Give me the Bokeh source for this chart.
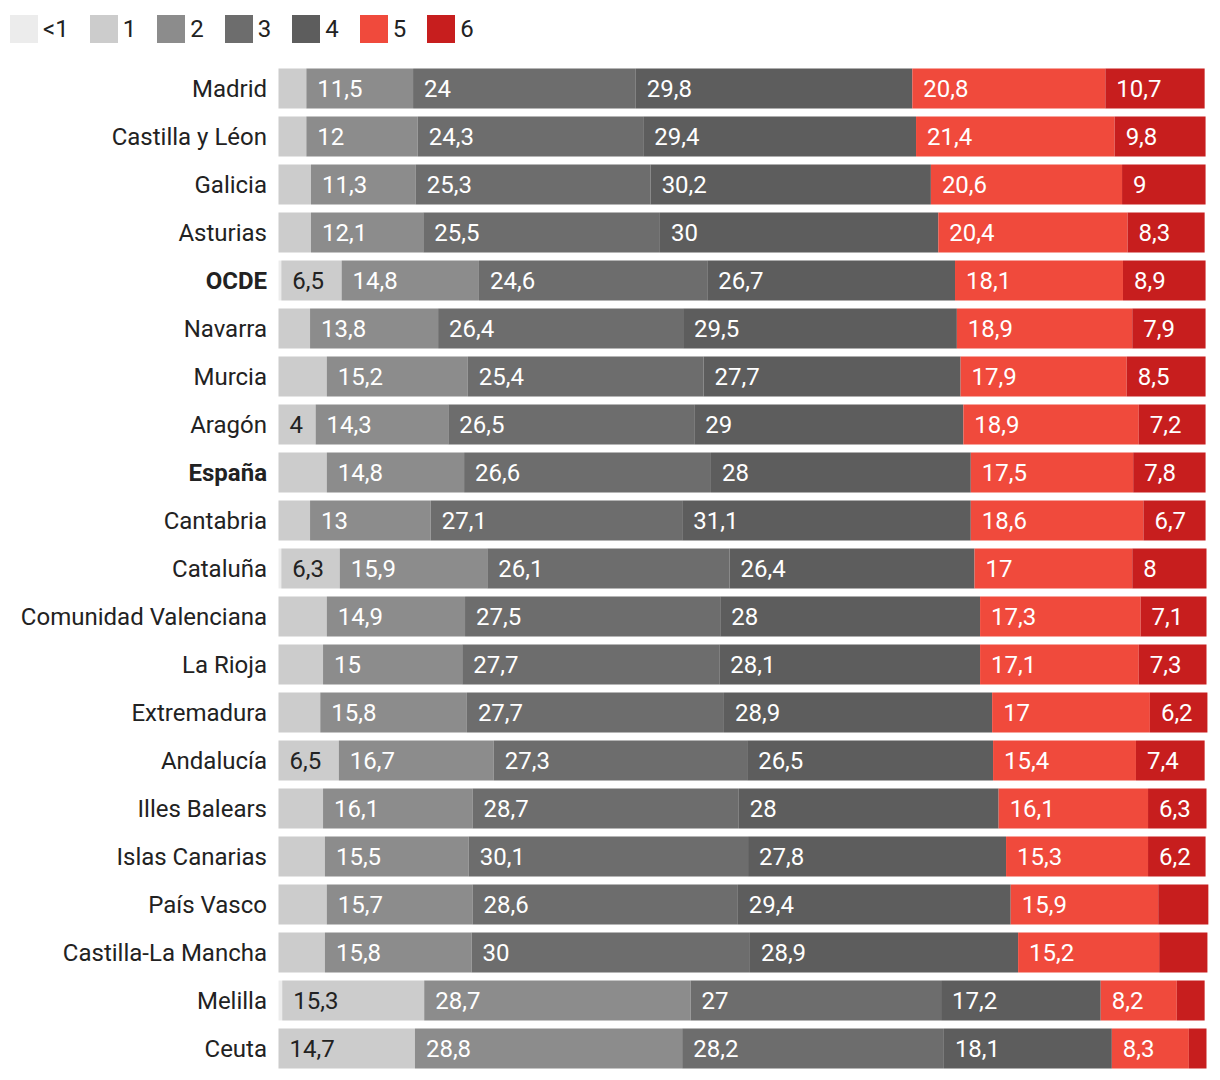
from bokeh.plotting import figure
from bokeh.models import ColumnDataSource, Range1d, Legend, LegendItem
from bokeh.core.properties import value
from bokeh.embed import file_html
from bokeh.resources import INLINE

# ---------------- data ----------------
regions = ["Madrid", "Castilla y Léon", "Galicia", "Asturias", "OCDE", "Navarra",
           "Murcia", "Aragón", "España", "Cantabria", "Cataluña",
           "Comunidad Valenciana", "La Rioja", "Extremadura", "Andalucía",
           "Illes Balears", "Islas Canarias", "País Vasco", "Castilla-La Mancha",
           "Melilla", "Ceuta"]
bold_rows = ["OCDE", "España"]

categories = ["<1", "1", "2", "3", "4", "5", "6"]

lt1 = [0, 0, 0, 0, 0.3, 0, 0, 0, 0, 0, 0.3, 0, 0, 0, 0, 0, 0, 0, 0, 0.4, 0]
c1 = [3.0, 3.0, 3.5, 3.5, 6.5, 3.4, 5.2, 4, 5.2, 3.4, 6.3, 5.2, 4.8, 4.5, 6.5,
      4.8, 5.0, 5.2, 5.0, 15.3, 14.7]
c2 = [11.5, 12, 11.3, 12.1, 14.8, 13.8, 15.2, 14.3, 14.8, 13, 15.9, 14.9, 15,
      15.8, 16.7, 16.1, 15.5, 15.7, 15.8, 28.7, 28.8]
c3 = [24, 24.3, 25.3, 25.5, 24.6, 26.4, 25.4, 26.5, 26.6, 27.1, 26.1, 27.5, 27.7,
      27.7, 27.3, 28.7, 30.1, 28.6, 30, 27, 28.2]
c4 = [29.8, 29.4, 30.2, 30, 26.7, 29.5, 27.7, 29, 28, 31.1, 26.4, 28, 28.1, 28.9,
      26.5, 28, 27.8, 29.4, 28.9, 17.2, 18.1]
c5 = [20.8, 21.4, 20.6, 20.4, 18.1, 18.9, 17.9, 18.9, 17.5, 18.6, 17, 17.3, 17.1,
      17, 15.4, 16.1, 15.3, 15.9, 15.2, 8.2, 8.3]
c6 = [10.7, 9.8, 9, 8.3, 8.9, 7.9, 8.5, 7.2, 7.8, 6.7, 8, 7.1, 7.3, 6.2, 7.4, 6.3,
      6.2, 5.4, 5.2, 3.0, 1.9]

# which values carry a printed label in the original
labelled_lt1 = [False] * 21
labelled_1 = [False, False, False, False, True, False, False, True, False, False,
              True, False, False, False, True, False, False, False, False, True, True]
labelled_2 = [True] * 21
labelled_3 = [True] * 21
labelled_4 = [True] * 21
labelled_5 = [True] * 21
labelled_6 = [True] * 17 + [False, False, False, False]

series = [lt1, c1, c2, c3, c4, c5, c6]
labelled = [labelled_lt1, labelled_1, labelled_2, labelled_3, labelled_4,
            labelled_5, labelled_6]

# ---------------- styles ----------------
colors = ["#ececec", "#cccccc", "#8c8c8c", "#6d6d6d", "#5d5d5d", "#f04a3c", "#c71e1e"]
label_colors = ["#222222", "#222222", "#ffffff", "#ffffff", "#ffffff", "#ffffff", "#ffffff"]
FONT = "Roboto"
FS = "24px"

W, H = 1212, 1072
PX = 9.28           # pixels per percentage point
X0 = 278            # bar origin in figure pixels
ROW = 48            # pixels per row
TOP0 = 88           # centre of first row from top (figure pixels)

p = figure(width=W, height=H, output_backend="svg", toolbar_location=None,
           x_range=Range1d(-X0 / PX, (W - X0) / PX),
           y_range=Range1d((H - TOP0) / ROW, -TOP0 / ROW),
           min_border=0, min_border_left=0, min_border_right=0,
           min_border_top=0, min_border_bottom=0)
p.axis.visible = False
p.grid.visible = False
p.outline_line_color = None
p.background_fill_color = "white"

def fmt(v):
    r = round(v, 1)
    if abs(r - round(r)) < 1e-9:
        return str(int(round(r)))
    return ("%.1f" % r).replace(".", ",")

ys = list(range(len(regions)))
lefts = [0.0] * len(regions)
renderers = []
for k, cat in enumerate(categories):
    vals = series[k]
    rights = [l + v for l, v in zip(lefts, vals)]
    src = ColumnDataSource(dict(y=ys, left=lefts, right=rights))
    r = p.hbar(y="y", left="left", right="right", height=40 / ROW, source=src,
               fill_color=colors[k], line_color=None)
    renderers.append(r)
    lx, ly, lt = [], [], []
    for i in ys:
        if labelled[k][i]:
            lx.append(lefts[i] + 11 / PX)
            ly.append(i)
            lt.append(fmt(vals[i]))
    tsrc = ColumnDataSource(dict(x=lx, y=ly, t=lt))
    p.text(x="x", y="y", text="t", source=tsrc, text_color=label_colors[k],
           text_font=value(FONT), text_font_size=FS, text_align="left",
           text_baseline="middle")
    lefts = rights

# region names
styles = ["bold" if r in bold_rows else "normal" for r in regions]
nsrc = ColumnDataSource(dict(x=[-11.5 / PX] * len(regions), y=ys, t=regions, s=styles))
p.text(x="x", y="y", text="t", text_font_style="s", source=nsrc,
       text_color="#222222", text_font=value(FONT), text_font_size=FS,
       text_align="right", text_baseline="middle")

legend = Legend(items=[LegendItem(label=c, renderers=[r]) for c, r in zip(categories, renderers)],
                orientation="horizontal", location=(6, H - 46),
                glyph_width=35, glyph_height=35, label_height=35, label_width=0,
                label_standoff=2, spacing=17, padding=0, margin=0,
                border_line_color=None, background_fill_alpha=0,
                label_text_font=FONT, label_text_font_size="24px",
                label_text_color="#222222")
p.add_layout(legend, "center")

open("out.html", "w").write(file_html(p, INLINE))
